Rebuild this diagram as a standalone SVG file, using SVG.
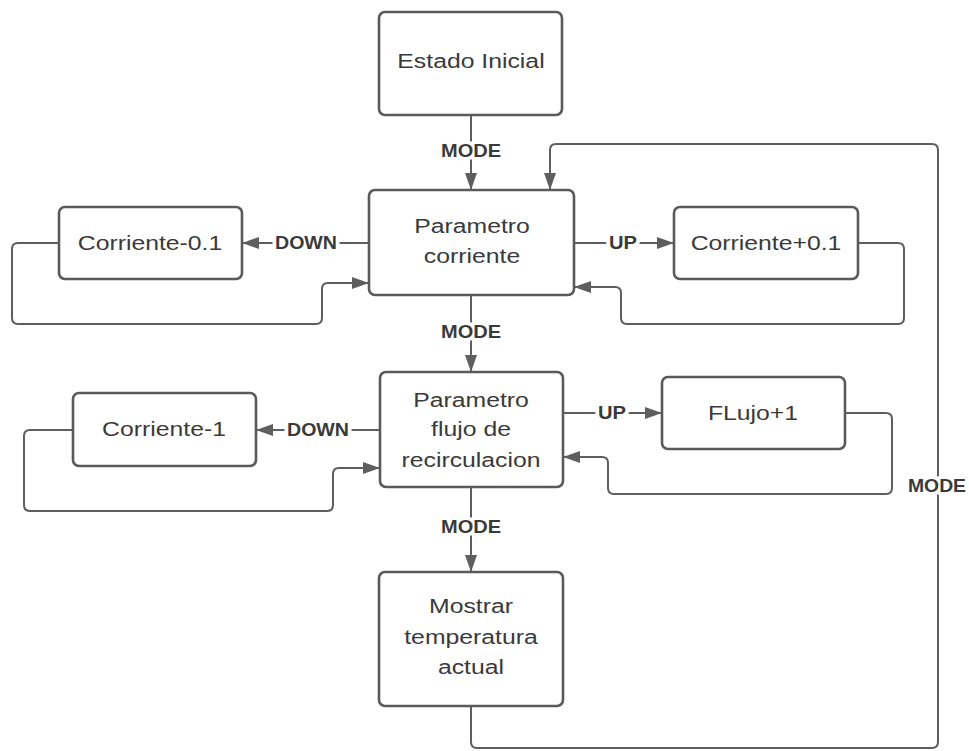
<svg xmlns="http://www.w3.org/2000/svg" width="969" height="751" viewBox="0 0 969 751">
<style>
.box{fill:#fff;stroke:#5a5a5a;stroke-width:2.6}
.t{font-family:"Liberation Sans",Arial,sans-serif;font-size:21px;fill:#3a3a3a;text-anchor:middle}
.c{fill:none;stroke:#5e5e5e;stroke-width:2}
.lbl{font-family:"Liberation Sans",Arial,sans-serif;font-size:18px;font-weight:bold;fill:#3a3a3a;text-anchor:middle;stroke:#fff;stroke-width:7;paint-order:stroke;stroke-linejoin:round}
</style>
<defs>
<marker id="ah" markerUnits="userSpaceOnUse" markerWidth="17" markerHeight="13" refX="17" refY="6.5" orient="auto">
<path d="M0,0.5 L17,6.5 L0,12.5 z" fill="#5e5e5e"/>
</marker>
</defs>
<rect width="969" height="751" fill="#fff"/>
<g id="connectors">
<path class="c" d="M471,115 V190" marker-end="url(#ah)"/>
<path class="c" d="M471,295 V372" marker-end="url(#ah)"/>
<path class="c" d="M471,487 V572" marker-end="url(#ah)"/>
<path class="c" d="M471,706 V742 Q471,748 477,748 H932 Q938,748 938,742 V150 Q938,144 932,144 H556 Q550,144 550,150 V190" marker-end="url(#ah)"/>
<path class="c" d="M369,243 H242" marker-end="url(#ah)"/>
<path class="c" d="M59,243 H18 Q12,243 12,249 V318 Q12,324 18,324 H316 Q322,324 322,318 V289 Q322,283 328,283 H369" marker-end="url(#ah)"/>
<path class="c" d="M574,243 H674" marker-end="url(#ah)"/>
<path class="c" d="M858,243 H898 Q904,243 904,249 V318 Q904,324 898,324 H627 Q621,324 621,318 V293 Q621,287 615,287 H574" marker-end="url(#ah)"/>
<path class="c" d="M380,430 H256" marker-end="url(#ah)"/>
<path class="c" d="M73,430 H30 Q24,430 24,436 V505 Q24,511 30,511 H327 Q333,511 333,505 V474 Q333,468 339,468 H380" marker-end="url(#ah)"/>
<path class="c" d="M563,413 H662" marker-end="url(#ah)"/>
<path class="c" d="M845,413 H886 Q892,413 892,419 V488 Q892,494 886,494 H614 Q608,494 608,488 V463 Q608,457 602,457 H563" marker-end="url(#ah)"/>
<text class="lbl" x="471" y="157" textLength="60" lengthAdjust="spacingAndGlyphs">MODE</text>
<text class="lbl" x="471" y="338" textLength="60" lengthAdjust="spacingAndGlyphs">MODE</text>
<text class="lbl" x="471" y="533" textLength="60" lengthAdjust="spacingAndGlyphs">MODE</text>
<text class="lbl" x="937" y="492" textLength="58" lengthAdjust="spacingAndGlyphs">MODE</text>
<text class="lbl" x="306" y="249" textLength="62" lengthAdjust="spacingAndGlyphs">DOWN</text>
<text class="lbl" x="318" y="436" textLength="62" lengthAdjust="spacingAndGlyphs">DOWN</text>
<text class="lbl" x="623" y="249" textLength="28" lengthAdjust="spacingAndGlyphs">UP</text>
<text class="lbl" x="612" y="419" textLength="28" lengthAdjust="spacingAndGlyphs">UP</text>
</g>
<g id="estado-inicial">
<rect class="box" x="379" y="12" width="183" height="103" rx="6"/>
<text class="t" transform="matrix(1.18,0,0,1,471,68)">Estado Inicial</text>
</g>
<g id="parametro-corriente">
<rect class="box" x="369" y="190" width="205" height="105" rx="6"/>
<text class="t" transform="matrix(1.18,0,0,1,472,233)">Parametro</text>
<text class="t" transform="matrix(1.18,0,0,1,472,263)">corriente</text>
</g>
<g id="corriente-minus-01">
<rect class="box" x="59" y="207" width="183" height="72" rx="6"/>
<text class="t" transform="matrix(1.18,0,0,1,150,250)">Corriente-0.1</text>
</g>
<g id="corriente-plus-01">
<rect class="box" x="674" y="207" width="184" height="72" rx="6"/>
<text class="t" transform="matrix(1.18,0,0,1,766,250)">Corriente+0.1</text>
</g>
<g id="parametro-flujo">
<rect class="box" x="380" y="372" width="183" height="115" rx="6"/>
<text class="t" transform="matrix(1.18,0,0,1,471,407)">Parametro</text>
<text class="t" transform="matrix(1.18,0,0,1,471,436)">flujo de</text>
<text class="t" transform="matrix(1.18,0,0,1,471,467)">recirculacion</text>
</g>
<g id="corriente-minus-1">
<rect class="box" x="73" y="393" width="183" height="73" rx="6"/>
<text class="t" transform="matrix(1.18,0,0,1,164,436)">Corriente-1</text>
</g>
<g id="flujo-plus-1">
<rect class="box" x="662" y="377" width="183" height="72" rx="6"/>
<text class="t" transform="matrix(1.18,0,0,1,753,420)">FLujo+1</text>
</g>
<g id="mostrar-temperatura">
<rect class="box" x="379" y="572" width="184" height="134" rx="6"/>
<text class="t" transform="matrix(1.18,0,0,1,471,613)">Mostrar</text>
<text class="t" transform="matrix(1.18,0,0,1,471,644)">temperatura</text>
<text class="t" transform="matrix(1.18,0,0,1,471,674)">actual</text>
</g>
</svg>
